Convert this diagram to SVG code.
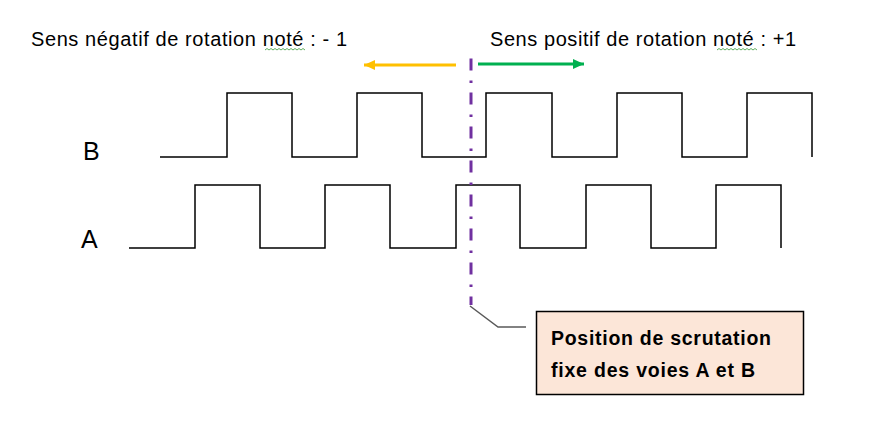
<svg xmlns="http://www.w3.org/2000/svg" width="869" height="425" viewBox="0 0 869 425">
<style>
.t{font-family:"Liberation Sans",Arial,sans-serif;fill:#000}
.sig{fill:none;stroke:#000;stroke-width:1.5}
.sq{fill:none;stroke:#3a9a3a;stroke-width:0.8}
</style>
<defs>
<marker id="ho" markerWidth="12" markerHeight="10" refX="11" refY="5" orient="auto" markerUnits="userSpaceOnUse"><path d="M0,0 L11,5 L0,10 Z" fill="#FFC000"/></marker>
<marker id="hg" markerWidth="12" markerHeight="10" refX="11" refY="5" orient="auto" markerUnits="userSpaceOnUse"><path d="M0,0 L11,5 L0,10 Z" fill="#00B050"/></marker>
</defs>
<rect width="869" height="425" fill="#fff"/>
<g id="titles">
<text class="t" x="31" y="46" font-size="20" textLength="316" lengthAdjust="spacing">Sens négatif de rotation noté : - 1</text>
<path class="sq" d="M265,50 l2,-1.5 l2,1.5 l2,-1.5 l2,1.5 l2,-1.5 l2,1.5 l2,-1.5 l2,1.5 l2,-1.5 l2,1.5 l2,-1.5 l2,1.5 l2,-1.5 l2,1.5 l2,-1.5 l2,1.5 l2,-1.5 l2,1.5 l2,-1.5 l2,1.5"/>
<text class="t" x="490" y="46" font-size="20" textLength="306" lengthAdjust="spacing">Sens positif de rotation noté : +1</text>
<path class="sq" d="M717,50 l2,-1.5 l2,1.5 l2,-1.5 l2,1.5 l2,-1.5 l2,1.5 l2,-1.5 l2,1.5 l2,-1.5 l2,1.5 l2,-1.5 l2,1.5 l2,-1.5 l2,1.5 l2,-1.5 l2,1.5 l2,-1.5 l2,1.5 l2,-1.5 l2,1.5"/>
</g>
<g id="label-B"><text class="t" x="83" y="160" font-size="25">B</text></g>
<g id="label-A"><text class="t" x="81" y="248" font-size="25">A</text></g>
<g id="signal-B">
<path class="sig" d="M160,157 H227 V93 H292 V157 H357 V93 H422 V157 H486 V93 H552 V157 H617 V93 H682 V157 H747 V93 H812 V157"/>
</g>
<g id="signal-A">
<path class="sig" d="M129,248 H195 V185 H260 V248 H325 V185 H390 V248 H456 V185 H520 V248 H586 V185 H651 V248 H716 V185 H781 V248"/>
</g>
<g id="connectors">
<line x1="456" y1="65" x2="364" y2="65" stroke="#FFC000" stroke-width="3" marker-end="url(#ho)"/>
<line x1="478" y1="64" x2="584" y2="64" stroke="#00B050" stroke-width="3" marker-end="url(#hg)"/>
<line x1="471" y1="58.5" x2="471" y2="305" stroke="#7030A0" stroke-width="3" stroke-dasharray="12 10 2.5 9.5"/>
<path d="M470,306 L498,327 H526" fill="none" stroke="#595959" stroke-width="1.5"/>
</g>
<g id="callout">
<rect x="536.5" y="311.5" width="267" height="83" fill="#FCE6D8" stroke="#000" stroke-width="1.5"/>
<text class="t" x="551" y="345" font-size="19.5" font-weight="bold" textLength="220" lengthAdjust="spacing">Position de scrutation</text>
<text class="t" x="551" y="377" font-size="19.5" font-weight="bold" textLength="204" lengthAdjust="spacing">fixe des voies A et B</text>
</g>
</svg>
